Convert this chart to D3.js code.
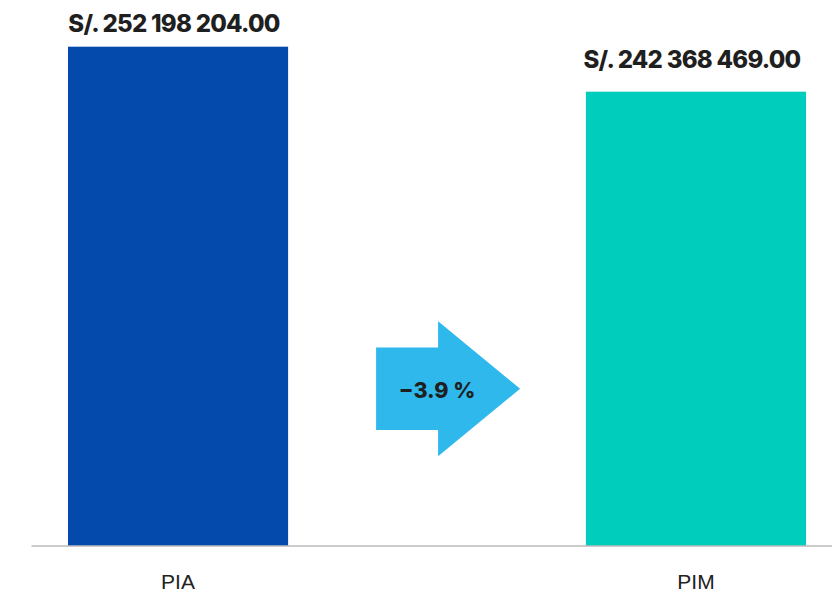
<!DOCTYPE html>
<html>
<head>
<meta charset="utf-8">
<script src="https://cdn.jsdelivr.net/npm/d3@7"></script>
<style>
  html, body { margin: 0; padding: 0; background: #fff; }
  svg { display: block; }
</style>
</head>
<body>
<svg id="chart" width="832" height="595"></svg>
<script>
// Presupuesto: PIA vs PIM
const categories = ["PIA", "PIM"];
const values = [252198204, 242368469];
const valueLabels = ["S/. 252 198 204.00", "S/. 242 368 469.00"];
const barColors = ["#0449AC", "#00CDBB"];
const changeLabel = "−3.9 %";

const width = 832, height = 595;
const baseline = 545.5;
const svg = d3.select("#chart");

const x = d3.scaleBand()
  .domain(categories)
  .range([31, 843])
  .paddingInner(0.575)
  .paddingOuter(0.0714);

// value axis starts above zero
const y = d3.scaleLinear()
  .domain([143200000, 252198204])
  .range([baseline, 46.7]);

// bars
svg.selectAll("rect.bar")
  .data(categories)
  .join("rect")
  .attr("class", "bar")
  .attr("x", d => x(d))
  .attr("width", x.bandwidth())
  .attr("y", (d, i) => y(values[i]))
  .attr("height", (d, i) => baseline - y(values[i]))
  .attr("fill", (d, i) => barColors[i]);

// baseline axis
const axis = svg.append("g")
  .attr("transform", `translate(0,${baseline})`)
  .call(d3.axisBottom(x).tickSize(0).tickPadding(0));
axis.select(".domain").attr("stroke", "#9a9a9a").attr("stroke-width", 1.2);
axis.selectAll(".tick text")
  .attr("dy", 0)
  .attr("y", 43)
  .attr("fill", "#222")
  .style("font-family", "Arial, 'Liberation Sans', sans-serif")
  .style("font-size", "21px");

// value labels
svg.selectAll("text.value")
  .data(categories)
  .join("text")
  .attr("class", "value")
  .attr("x", d => x(d) + x.bandwidth() / 2 - 4)
  .attr("y", (d, i) => Math.max(y(values[i]) - 23.4, 31.7))
  .attr("text-anchor", "middle")
  .attr("fill", "#1f1f1f")
  .style("font-family", "Inter, 'Noto Sans', sans-serif")
  .style("font-weight", 800)
  .style("font-size", "24px")
  .style("letter-spacing", "-0.75px")
  .text((d, i) => valueLabels[i]);

// change arrow between the bars
const ax0 = x("PIA") + x.bandwidth() + 88;
const axBody = 62, axTip = 144;
const ay = 388.7, bodyHalf = 41.3, headHalf = 67.5;
const arrowPts = [
  [ax0, ay - bodyHalf], [ax0 + axBody, ay - bodyHalf], [ax0 + axBody, ay - headHalf],
  [ax0 + axTip, ay], [ax0 + axBody, ay + headHalf], [ax0 + axBody, ay + bodyHalf],
  [ax0, ay + bodyHalf]
];
svg.append("path")
  .attr("d", d3.line()(arrowPts) + "Z")
  .attr("fill", "#2EB8EC");

svg.append("text")
  .attr("x", ax0 + 61)
  .attr("y", ay + 9)
  .attr("text-anchor", "middle")
  .attr("fill", "#1f1f1f")
  .style("font-family", "Inter, 'Noto Sans', sans-serif")
  .style("font-weight", 800)
  .style("font-size", "21.5px")
  .text(changeLabel);
</script>
</body>
</html>
